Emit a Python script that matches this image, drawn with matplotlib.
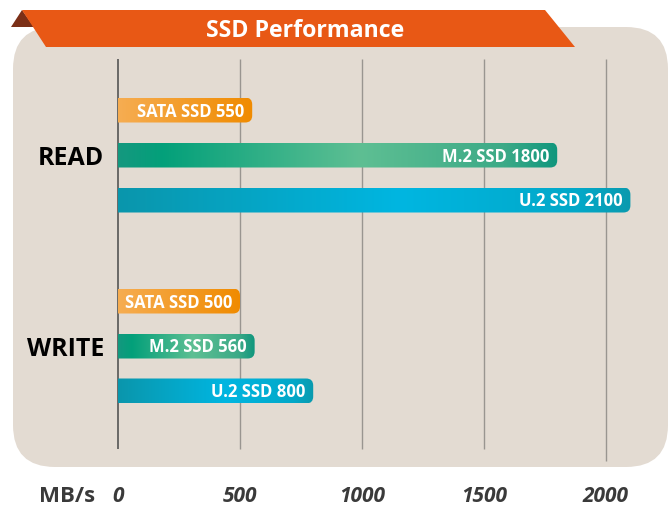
import numpy as np
import matplotlib
matplotlib.use("Agg")
import matplotlib.pyplot as plt
from matplotlib.patches import FancyBboxPatch, Polygon
from matplotlib.colors import LinearSegmentedColormap

plt.rcParams['font.family'] = ['Open Sans', 'DejaVu Sans']

# ---- data ----
groups = ["READ", "WRITE"]
series = ["SATA SSD", "M.2 SSD", "U.2 SSD"]
read_vals = [550, 1800, 2100]
write_vals = [500, 560, 800]
ticks = [0, 500, 1000, 1500, 2000]
title = "SSD Performance"
unit = "MB/s"

# ---- style ----
W, H = 670, 506
panel_color = "#E3DBD2"
cmaps = [
    LinearSegmentedColormap.from_list("sata", [(0, "#F6AD52"), (1, "#F08B00")]),
    LinearSegmentedColormap.from_list("m2", [(0, "#14987F"), (0.1, "#03A07A"), (0.55, "#5EBF93"),
                                             (0.88, "#3CAA87"), (1, "#10967D")]),
    LinearSegmentedColormap.from_list("u2", [(0, "#0A96AC"), (0.55, "#00B6E1"), (0.9, "#03A8C8"),
                                             (1, "#0A9AAE")]),
]

fig = plt.figure(figsize=(W / 100, H / 100), dpi=100)
fig.patch.set_facecolor("white")

# background / decoration axes in pixel coordinates
bg = fig.add_axes([0, 0, 1, 1])
bg.set_xlim(0, W)
bg.set_ylim(H, 0)
bg.axis("off")

panel = FancyBboxPatch((13, 28), 655, 440, boxstyle="round,pad=0,rounding_size=42",
                       facecolor=panel_color, edgecolor="none", zorder=0)
bg.add_patch(panel)
bg.add_patch(Polygon([(11, 28), (22, 11), (34, 28)], closed=True, facecolor="#7B2F17",
                     edgecolor="none", zorder=1))
bg.add_patch(Polygon([(22, 11), (545, 11), (575, 48), (46, 48)], closed=True,
                     facecolor="#E85815", edgecolor="none", zorder=2))
bg.text(305, 31, title, color="white", fontsize=16.7, fontweight="bold",
        ha="center", va="center", zorder=3)

# data axes: x in MB/s, y in pixel rows
x0_px, px_per = 118.0, 122.0 / 500.0
ax = fig.add_axes([0, 0, 1, 1], facecolor="none")
ax.set_xlim(-x0_px / px_per, (W - x0_px) / px_per)
ax.set_ylim(H, 0)
ax.axis("off")

for t in ticks:
    ax.plot([t, t], [60, 450 if t < 2000 else 462], color="#555555" if t == 0 else "#999590",
            lw=1.2 if t == 0 else 1.0, zorder=1, solid_capstyle="butt")
    ax.text(t, 497, str(t), ha="center", va="center", fontsize=15, fontweight="bold",
            fontstyle="italic", color="#3a3a3a")
ax.text((67 - x0_px) / px_per, 497, unit, ha="center", va="center", fontsize=16,
        fontweight="bold", color="#3a3a3a")

group_centers = [156, 347]
offsets = [-45, 0, 45]
bar_h = 25
r_px = 7
for g, vals in enumerate([read_vals, write_vals]):
    ax.text((104 - x0_px) / px_per, group_centers[g] + 2, groups[g], ha="right", va="center",
            fontsize=18, fontweight="bold", color="black")
    for i, v in enumerate(vals):
        yc = group_centers[g] + offsets[i]
        grad = np.linspace(0, 1, 256).reshape(1, -1)
        im = ax.imshow(grad, cmap=cmaps[i], aspect="auto",
                       extent=[0, v, yc + bar_h / 2, yc - bar_h / 2], zorder=2,
                       interpolation="bilinear")
        clip = FancyBboxPatch((-100, yc - bar_h / 2), v + 100, bar_h,
                              boxstyle=f"round,pad=0,rounding_size={r_px / px_per}",
                              mutation_aspect=px_per, transform=ax.transData,
                              facecolor="none", edgecolor="none")
        ax.add_patch(clip)
        im.set_clip_path(clip)
        ax.text(v - 8 / px_per, yc + 0.5, f"{series[i]} {v}", ha="right", va="center",
                color="white", fontsize=12, fontweight="bold", zorder=3)

ax.set_xlim(-x0_px / px_per, (W - x0_px) / px_per)
ax.set_ylim(H, 0)
fig.savefig("out.png", dpi=100)
